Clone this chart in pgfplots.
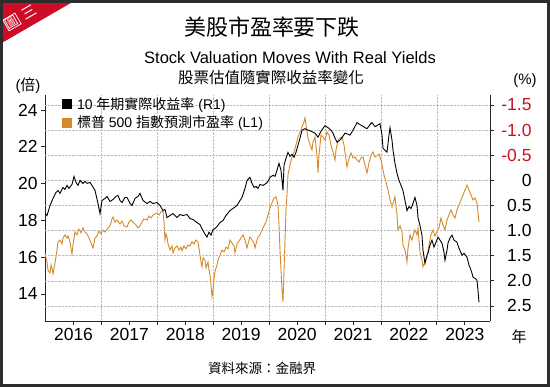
\documentclass[border=0pt]{standalone}
\usepackage{pgfplots}
\pgfplotsset{compat=1.18}
\usepackage{fontspec}
\setmainfont{Liberation Sans}
\newfontfamily\cjk{Noto Sans CJK TC}
\definecolor{orangeC}{RGB}{212,138,42}
\definecolor{tickred}{RGB}{200,20,30}
\definecolor{badge}{RGB}{205,12,40}
\definecolor{frameC}{RGB}{45,45,45}
\definecolor{gridC}{RGB}{190,190,190}

\pgfplotstableread{
t r
2015.990 0.66
2016.026 0.70
2016.080 0.50
2016.133 0.36
2016.187 0.24
2016.223 0.20
2016.258 0.26
2016.312 0.14
2016.348 0.18
2016.384 0.10
2016.419 0.16
2016.473 0.08
2016.509 -0.08
2016.545 0.04
2016.581 0.10
2016.616 0.00
2016.670 0.06
2016.706 0.02
2016.742 0.06
2016.795 0.04
2016.831 0.10
2016.885 0.20
2016.938 0.46
2016.974 0.66
2017.010 0.40
2017.064 0.36
2017.099 0.32
2017.153 0.42
2017.207 0.38
2017.260 0.32
2017.296 0.30
2017.332 0.40
2017.368 0.44
2017.421 0.34
2017.457 0.34
2017.511 0.46
2017.547 0.50
2017.600 0.36
2017.654 0.32
2017.690 0.26
2017.743 0.40
2017.815 0.46
2017.869 0.42
2017.922 0.46
2017.994 0.44
2018.047 0.50
2018.101 0.60
2018.137 0.58
2018.173 0.74
2018.226 0.70
2018.280 0.66
2018.352 0.74
2018.405 0.68
2018.459 0.70
2018.530 0.68
2018.584 0.76
2018.638 0.78
2018.709 0.84
2018.763 0.88
2018.817 1.00
2018.852 1.07
2018.888 1.13
2018.924 1.03
2018.960 1.09
2018.996 0.98
2019.031 0.96
2019.067 0.92
2019.121 0.84
2019.174 0.80
2019.228 0.70
2019.300 0.60
2019.353 0.56
2019.425 0.50
2019.479 0.40
2019.514 0.34
2019.568 0.16
2019.604 0.00
2019.657 -0.06
2019.693 0.06
2019.729 0.14
2019.765 0.12
2019.801 0.16
2019.836 0.08
2019.890 0.10
2019.944 0.06
2019.979 0.02
2020.015 -0.06
2020.069 -0.10
2020.105 -0.08
2020.140 -0.20
2020.176 -0.34
2020.212 -0.20
2020.248 0.20
2020.266 -0.30
2020.301 -0.44
2020.337 -0.56
2020.373 -0.48
2020.409 -0.52
2020.445 -0.46
2020.480 -0.56
2020.516 -0.70
2020.552 -0.84
2020.588 -1.00
2020.641 -1.03
2020.695 -1.00
2020.749 -0.98
2020.820 -0.94
2020.874 -0.86
2020.928 -0.98
2020.999 -1.09
2021.053 -1.05
2021.106 -1.00
2021.142 -0.94
2021.178 -0.84
2021.214 -0.76
2021.267 -0.80
2021.321 -0.88
2021.357 -0.94
2021.411 -0.92
2021.446 -0.90
2021.500 -1.00
2021.572 -1.15
2021.625 -1.11
2021.661 -1.09
2021.715 -1.05
2021.750 -1.03
2021.804 -1.11
2021.840 -1.15
2021.894 -1.07
2021.929 -1.09
2021.983 -1.13
2022.019 -0.90
2022.037 -0.64
2022.072 -0.60
2022.108 -0.56
2022.144 -0.90
2022.162 -1.05
2022.198 -0.80
2022.216 -0.60
2022.251 -0.34
2022.287 -0.14
2022.323 0.00
2022.359 0.10
2022.394 0.20
2022.430 0.40
2022.466 0.60
2022.502 0.52
2022.538 0.56
2022.573 0.46
2022.609 0.34
2022.645 0.50
2022.663 0.74
2022.699 0.90
2022.734 1.09
2022.752 1.39
2022.788 1.65
2022.824 1.49
2022.842 1.45
2022.877 1.29
2022.913 1.19
2022.949 1.33
2022.985 1.23
2023.021 1.13
2023.056 1.19
2023.092 1.25
2023.128 1.43
2023.146 1.59
2023.182 1.39
2023.199 1.25
2023.235 1.15
2023.271 1.09
2023.307 1.19
2023.360 1.23
2023.396 1.35
2023.450 1.49
2023.486 1.45
2023.539 1.53
2023.575 1.69
2023.593 1.73
2023.629 1.85
2023.647 1.93
2023.682 1.95
2023.718 1.99
2023.736 2.19
2023.754 2.43
}\realyield

\pgfplotstableread{
t pe
2015.990 16.23
2016.008 15.96
2016.026 15.74
2016.044 15.30
2016.080 15.14
2016.098 15.58
2016.115 15.41
2016.133 15.09
2016.169 15.68
2016.205 16.39
2016.223 16.83
2016.258 16.93
2016.294 16.72
2016.312 17.04
2016.348 17.21
2016.384 17.04
2016.402 17.15
2016.437 16.83
2016.473 16.17
2016.491 16.66
2016.527 17.37
2016.563 17.21
2016.598 17.53
2016.634 17.32
2016.670 17.59
2016.706 17.37
2016.742 17.26
2016.777 17.04
2016.813 16.77
2016.849 16.50
2016.885 17.04
2016.920 17.15
2016.956 17.42
2016.992 17.26
2017.028 17.48
2017.064 17.37
2017.099 17.53
2017.153 17.70
2017.189 18.08
2017.207 18.18
2017.242 17.91
2017.278 18.02
2017.332 17.80
2017.368 17.97
2017.403 17.70
2017.457 17.64
2017.493 17.91
2017.529 18.02
2017.564 17.91
2017.618 17.75
2017.654 17.59
2017.690 17.70
2017.725 17.91
2017.761 18.08
2017.815 18.02
2017.851 18.24
2017.886 18.13
2017.922 18.29
2017.958 18.35
2017.994 18.40
2018.030 18.29
2018.065 18.46
2018.101 18.51
2018.119 17.91
2018.137 16.93
2018.155 17.26
2018.173 17.10
2018.191 16.72
2018.226 16.39
2018.262 16.61
2018.280 16.23
2018.316 16.50
2018.352 16.61
2018.387 16.39
2018.423 16.55
2018.441 16.34
2018.477 16.61
2018.513 16.45
2018.548 16.66
2018.584 16.61
2018.620 16.83
2018.656 16.72
2018.691 16.93
2018.727 16.83
2018.763 16.12
2018.781 15.74
2018.799 15.47
2018.817 15.96
2018.852 15.85
2018.870 15.41
2018.906 15.74
2018.924 15.30
2018.942 15.03
2018.960 14.49
2018.978 13.84
2018.996 14.22
2019.013 14.76
2019.031 15.20
2019.067 15.58
2019.085 15.85
2019.121 16.12
2019.157 16.39
2019.192 16.28
2019.228 16.55
2019.264 16.45
2019.300 16.93
2019.335 16.77
2019.371 16.61
2019.389 16.23
2019.425 16.72
2019.461 16.88
2019.496 17.04
2019.532 17.21
2019.568 16.93
2019.604 16.50
2019.640 16.93
2019.657 17.10
2019.693 16.93
2019.729 16.77
2019.747 16.50
2019.783 16.93
2019.801 17.10
2019.836 17.21
2019.872 17.48
2019.908 17.70
2019.944 17.91
2019.979 18.29
2020.015 18.67
2020.051 18.95
2020.087 19.22
2020.123 19.28
2020.158 18.84
2020.176 17.75
2020.194 16.39
2020.212 15.30
2020.230 14.22
2020.248 13.57
2020.266 15.30
2020.284 16.93
2020.301 18.57
2020.319 19.38
2020.337 20.47
2020.373 21.01
2020.409 21.45
2020.445 21.72
2020.480 22.10
2020.516 22.53
2020.552 22.80
2020.588 23.08
2020.623 23.35
2020.641 23.57
2020.659 23.18
2020.695 22.48
2020.731 22.10
2020.767 21.83
2020.784 22.26
2020.820 22.53
2020.856 21.55
2020.874 20.58
2020.892 21.55
2020.928 22.64
2020.963 22.53
2020.999 22.37
2021.035 22.80
2021.071 22.64
2021.106 22.10
2021.142 21.72
2021.178 21.28
2021.196 21.83
2021.232 22.37
2021.267 22.48
2021.303 22.53
2021.339 22.10
2021.375 21.28
2021.393 20.90
2021.429 21.39
2021.464 21.66
2021.500 21.39
2021.536 21.45
2021.572 21.28
2021.607 21.17
2021.643 21.39
2021.679 21.45
2021.715 21.01
2021.750 20.58
2021.786 21.12
2021.822 21.55
2021.858 21.72
2021.894 21.45
2021.929 21.50
2021.965 21.61
2022.001 21.28
2022.019 21.01
2022.055 20.47
2022.090 20.09
2022.126 19.65
2022.162 19.11
2022.198 18.73
2022.233 19.11
2022.251 19.28
2022.287 18.29
2022.305 17.48
2022.341 17.70
2022.377 17.37
2022.394 16.66
2022.430 16.39
2022.466 15.74
2022.484 16.50
2022.520 17.21
2022.555 16.93
2022.573 17.15
2022.609 17.48
2022.645 17.21
2022.663 17.59
2022.681 16.93
2022.699 16.28
2022.734 15.85
2022.752 15.47
2022.788 15.74
2022.824 16.01
2022.860 16.66
2022.895 17.21
2022.931 17.48
2022.967 17.15
2023.003 17.37
2023.038 17.59
2023.074 18.13
2023.110 17.75
2023.146 17.48
2023.182 18.02
2023.217 18.29
2023.253 18.57
2023.289 18.29
2023.325 18.13
2023.360 18.57
2023.396 18.84
2023.432 19.11
2023.468 19.38
2023.504 19.65
2023.539 19.92
2023.575 19.65
2023.611 19.38
2023.647 19.11
2023.682 19.22
2023.718 18.95
2023.754 17.91
}\petable

\begin{document}
\begin{tikzpicture}[x=1pt,y=1pt]
\path[use as bounding box] (0,0) rectangle (550,387);
\fill[white] (0,0) rectangle (550,387);

% left axis: forward P/E
\begin{axis}[
  at={(45pt,66pt)}, anchor=south west, scale only axis,
  width=445pt, height=226pt,
  xmin=2015.99, xmax=2023.951, ymin=12.53, ymax=24.815,
  axis x line*=bottom, axis y line*=left,
  axis line style={-, line width=0.9pt, black!85},
  tick align=outside, major tick length=4pt, minor tick length=4pt,
  tick style={line width=0.7pt, black!85},
  xtick={2016.5,2017.5,2018.5,2019.5,2020.5,2021.5,2022.5,2023.5},
  xticklabels={2016,2017,2018,2019,2020,2021,2022,2023},
  minor xtick={2017,2018,2019,2020,2021,2022,2023},
  xminorgrids, minor grid style={densely dotted, gridC, line width=0.6pt},
  ytick={14,16,18,20,22,24},
  /pgf/number format/assume math mode=true,
  tick label style={font=\fontsize{17.5}{17.5}\selectfont, black},
]
\addplot[orangeC, line width=0.9pt] table[x=t, y=pe] {\petable};
\end{axis}

% right axis: 10y real yield (inverted)
\begin{axis}[
  at={(45pt,66pt)}, anchor=south west, scale only axis,
  width=445pt, height=226pt,
  xmin=2015.99, xmax=2023.951, ymin=-1.70, ymax=2.80, y dir=reverse,
  axis x line=none, axis y line*=right,
  axis line style={-, line width=0.9pt, black!85},
  tick align=outside, major tick length=4pt,
  tick style={line width=0.7pt, black!85},
  ytick={-1.5,-1,-0.5,0,0.5,1,1.5,2,2.5},
  yticklabels={\textcolor{tickred}{-1.5},\textcolor{tickred}{-1.0},\textcolor{tickred}{-0.5},0,0.5,1.0,1.5,2.0,2.5},
  ymajorgrids, major grid style={densely dotted, gridC, line width=0.6pt},
  yticklabel style={font=\fontsize{17.5}{17.5}\selectfont, anchor=west, text width=34pt, align=right},
  legend style={at={(0.038,1.0)}, anchor=north west, draw=none, fill=none,
    font=\fontsize{14}{14}\selectfont, row sep=1.5pt, column sep=3pt, inner sep=0pt},
  legend cell align=left,
  legend image code/.code={\fill[#1] (0pt,-4.5pt) rectangle (9pt,4.5pt);},
]
\addplot[black, line width=0.9pt] table[x=t, y=r] {\realyield};
\addlegendentry{10 {\cjk 年期實際收益率} (R1)}
\addlegendimage{orangeC, fill=orangeC}
\addlegendentry{{\cjk 標普} 500 {\cjk 指數預測市盈率} (L1)}
\end{axis}

% titles and labels
\node[font=\cjk\fontsize{22}{22}\selectfont] at (272,360) {美股市盈率要下跌};
\node[font=\fontsize{16.5}{16.5}\selectfont] at (290,329) {Stock Valuation Moves With Real Yields};
\node[font=\cjk\fontsize{15.5}{15.5}\selectfont] at (271,309) {股票估值隨實際收益率變化};
\node[font=\fontsize{15}{15}\selectfont] at (28,301) {({\cjk 倍})};
\node[font=\fontsize{15}{15}\selectfont] at (525,306) {(\%)};
\node[font=\cjk\fontsize{15}{15}\selectfont] at (519,50) {年};
\node[font=\cjk\fontsize{13.5}{13.5}\selectfont] at (262,19) {資料來源：金融界};

% badge
\fill[badge] (0,387) -- (76,387) -- (0,343) -- cycle;
\node[rotate=30, text=white, draw=white, line width=0.7pt, inner sep=0.7pt, font=\cjk\fontsize{12.5}{12.5}\selectfont] at (12,365) {圖};
\node[rotate=30, text=white, font=\cjk\fontsize{14.5}{14.5}\selectfont] at (29,375) {三};

% frame
\draw[frameC, line width=2.6pt] (1.3,1.3) rectangle (548.7,385.7);
\end{tikzpicture}
\end{document}
